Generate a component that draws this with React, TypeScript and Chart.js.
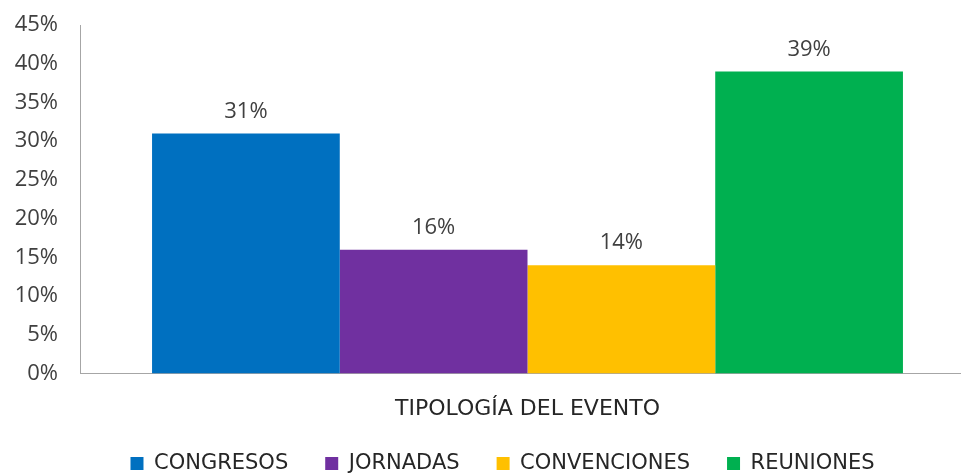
import React, { useEffect, useRef } from "react";
import { Chart, registerables } from "chart.js";

Chart.register(...registerables);

const categories = ["TIPOLOGÍA DEL EVENTO"];
const seriesNames = ["CONGRESOS", "JORNADAS", "CONVENCIONES", "REUNIONES"];
const seriesValues = [31, 16, 14, 39];
const seriesColors = ["#0070C0", "#7030A0", "#FFC000", "#00B050"];
const yTicks = [0, 5, 10, 15, 20, 25, 30, 35, 40, 45];

const FONT = "'Open Sans', 'Liberation Sans', sans-serif";
const FONT_W = "'DejaVu Sans', 'Open Sans', sans-serif";

const labelPlugin = {
  id: "barLabels",
  afterDatasetsDraw(chart: any) {
    const ctx = chart.ctx;
    ctx.save();
    ctx.fillStyle = "#404040";
    ctx.font = `22px ${FONT}`;
    ctx.textAlign = "center";
    ctx.textBaseline = "bottom";
    chart.data.datasets.forEach((ds: any, i: number) => {
      const meta = chart.getDatasetMeta(i);
      meta.data.forEach((bar: any, j: number) => {
        ctx.fillText(ds.data[j] + "%", bar.x, bar.y - 11);
      });
    });
    ctx.restore();
  },
};

const LEGEND_SHIFT_Y = 11;
const LEGEND_SHIFT_X = 15;
const legendShiftPlugin = {
  id: "legendShift",
  afterLayout(chart: any) {
    const lg = chart.legend;
    if (lg) {
      lg.top += LEGEND_SHIFT_Y;
      lg.bottom += LEGEND_SHIFT_Y;
      lg.left += LEGEND_SHIFT_X;
      lg.right += LEGEND_SHIFT_X;
    }
  },
};

export default function App() {
  const ref = useRef<HTMLCanvasElement>(null);
  useEffect(() => {
    document.body.style.margin = "0";
    const chart = new Chart(ref.current!, {
      type: "bar",
      data: {
        labels: categories,
        datasets: seriesNames.map((n, i) => ({
          label: n,
          data: [seriesValues[i]],
          backgroundColor: seriesColors[i],
          categoryPercentage: 0.839,
          barPercentage: 1,
        })),
      },
      options: {
        animation: false,
        responsive: false,
        layout: { padding: { top: 25, right: 0, left: 0, bottom: 0 } },
        plugins: {
          legend: {
            position: "bottom",
            labels: {
              boxWidth: 13,
              boxHeight: 13,
              padding: 37,
              color: "#262626",
              font: { size: 21, family: FONT_W },
            },
          },
          tooltip: { enabled: false },
        },
        scales: {
          x: {
            grid: { display: false, drawTicks: false },
            border: { color: "#A6A6A6", width: 1 },
            ticks: { display: false },
            title: {
              display: true,
              text: categories[0],
              color: "#262626",
              font: { size: 22, family: FONT_W },
              padding: { top: 22, bottom: -17 },
            },
          },
          y: {
            min: 0,
            max: 45,
            afterBuildTicks(axis: any) {
              axis.ticks = yTicks.map((v) => ({ value: v }));
            },
            afterFit(axis: any) {
              axis.width = 80;
              axis.paddingTop = 0;
              axis.paddingBottom = 0;
            },
            grid: { display: false, drawTicks: false },
            border: { color: "#A6A6A6", width: 1 },
            ticks: {
              padding: 22,
              color: "#404040",
              font: { size: 22, family: FONT },
              callback: (v: any) => v + "%",
            },
          },
        },
      },
      plugins: [labelPlugin, legendShiftPlugin],
    });
    return () => chart.destroy();
  }, []);
  return (
    <div style={{ width: 961, height: 473, overflow: "hidden" }}>
      <canvas ref={ref} width={975} height={473} style={{ display: "block" }} />
    </div>
  );
}
